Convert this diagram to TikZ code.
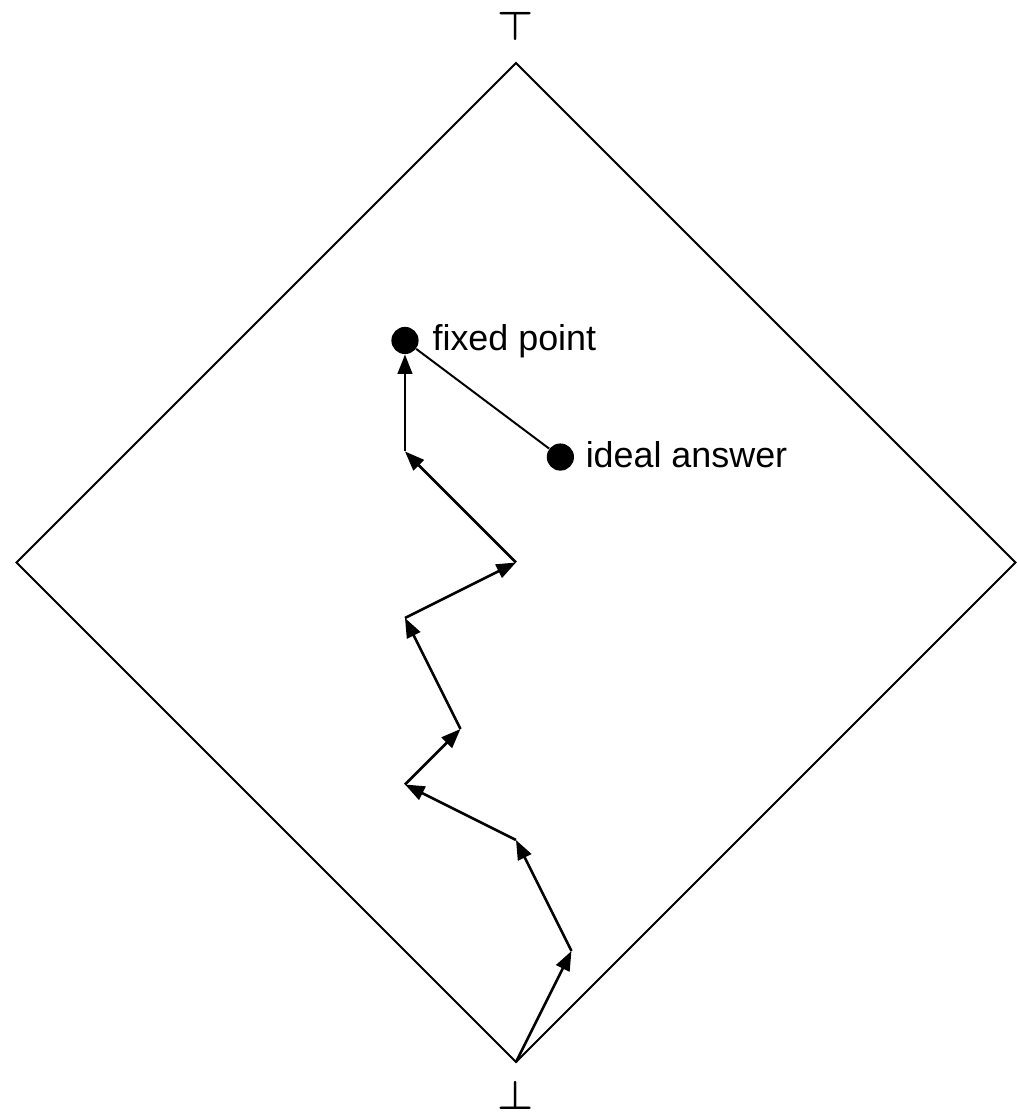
\documentclass[tikz,border=0pt]{standalone}
\usepackage{fontspec}
\setmainfont{Liberation Sans}
\usetikzlibrary{arrows.meta,calc}
\begin{document}
\begin{tikzpicture}[
  edgeline/.style={line width=1pt, line join=miter},
  walk/.style={line width=1.3pt, -{Triangle[length=10pt,width=7.5pt]}},
  dotnode/.style={circle, fill=black, inner sep=0pt, minimum size=0.49cm},
  lbl/.style={anchor=base west, inner sep=0pt, font=\fontsize{18.4}{22}\selectfont},
  sym/.style={inner sep=0pt, font=\fontsize{21}{21}\selectfont\boldmath}
]
\useasboundingbox (-9.297,-0.937) rectangle (9.045,19.135);
% lattice diamond
\coordinate (bot) at (0,0);
\coordinate (rgt) at (9,9);
\coordinate (topv) at (0,18);
\coordinate (lft) at (-9,9);
\draw[edgeline] (bot) -- (rgt) -- (topv) -- (lft) -- cycle;
\node[sym] (topsym) at (0,18.66) {$\top$};
\node[sym] (botsym) at (0,-0.6) {$\bot$};
% walk points
\coordinate (p1) at (1,2);
\coordinate (p2) at (0,4);
\coordinate (p3) at (-2,5);
\coordinate (p4) at (-1,6);
\coordinate (p5) at (-2,8);
\coordinate (p6) at (0,9);
\coordinate (p7) at (-2,11);
\node[dotnode] (fp) at (-2,13) {};
\node[dotnode] (ideal) at (0.8,10.9) {};
\node[lbl] (fptext) at ($(fp.center)+(0.49,-0.18)$) {fixed point};
\node[lbl] (idealtext) at ($(ideal.center)+(0.45,-0.18)$) {ideal answer};
\draw[walk] (bot) -- (p1);
\draw[walk] (p1) -- (p2);
\draw[walk] (p2) -- (p3);
\draw[walk] (p3) -- (p4);
\draw[walk] (p4) -- (p5);
\draw[walk] (p5) -- (p6);
\draw[walk] (p6) -- (p7);
\draw[walk] (p7) -- (fp);
\draw[line width=1pt] (fp) -- (ideal);
\end{tikzpicture}
\end{document}
